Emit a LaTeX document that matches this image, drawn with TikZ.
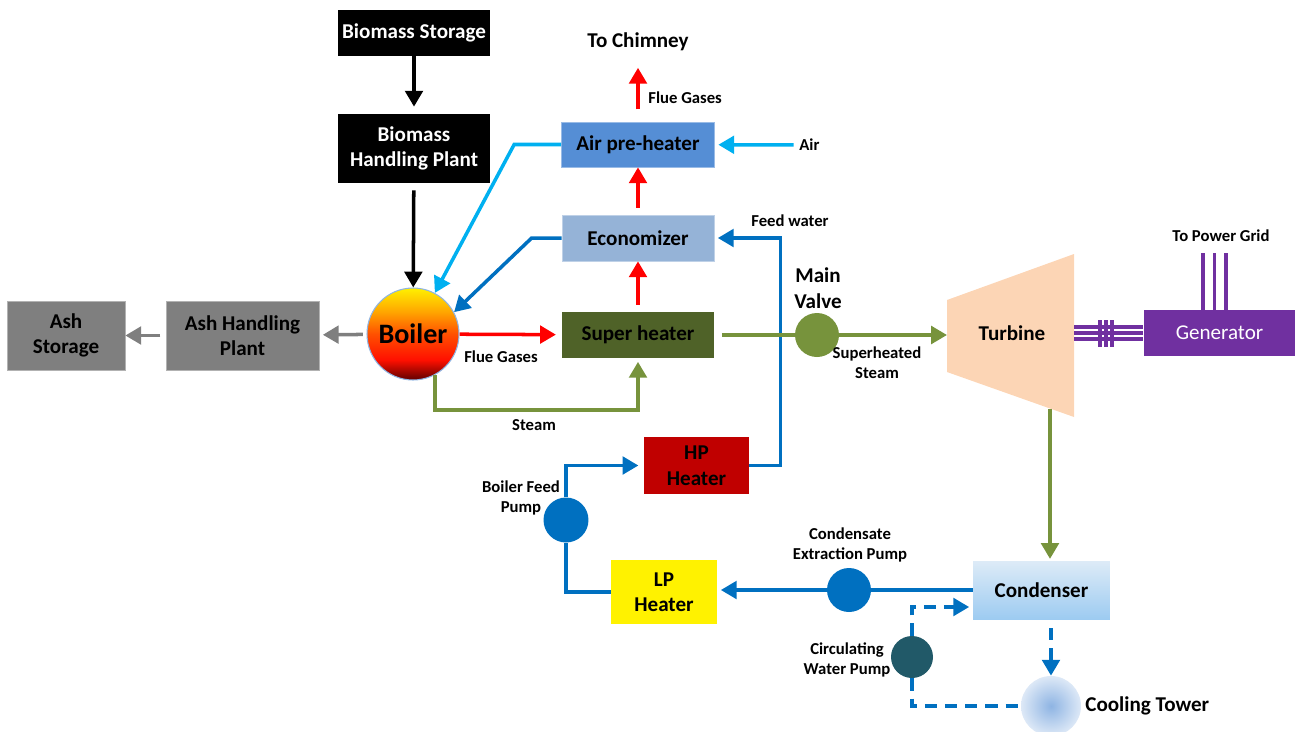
\documentclass[tikz,border=0pt]{standalone}
\usepackage{fontspec}
\setmainfont{Carlito}
\usetikzlibrary{arrows.meta,calc}

\definecolor{steamgreen}{HTML}{77933C}
\definecolor{shgreen}{HTML}{4F6228}
\definecolor{econblue}{HTML}{95B3D7}
\definecolor{airblue}{HTML}{558ED5}
\definecolor{skyline}{HTML}{00B0F0}
\definecolor{waterblue}{HTML}{0070C0}
\definecolor{hpred}{HTML}{C00000}
\definecolor{ashgray}{HTML}{7F7F7F}
\definecolor{genpurple}{HTML}{7030A0}
\definecolor{turbpeach}{HTML}{FCD5B5}
\definecolor{pumpteal}{HTML}{215968}
\definecolor{towerblue}{HTML}{8EB4E3}
\definecolor{condtop}{HTML}{DDEBF7}
\definecolor{condbot}{HTML}{9DCBF1}
\definecolor{boilerdark}{HTML}{600000}
\definecolor{boilerred}{HTML}{FF1000}
\definecolor{boilermid}{HTML}{FF5000}
\definecolor{boilerorange}{HTML}{FFA500}
\definecolor{boileryellow}{HTML}{FFF000}

\pgfdeclareverticalshading{boilershade}{100bp}{color(0bp)=(boilerdark); color(25bp)=(boilerdark); color(36bp)=(boilerred); color(50bp)=(boilermid); color(62bp)=(boilerorange); color(75bp)=(boileryellow); color(100bp)=(boileryellow)}

\newcommand\boxtxt{\bfseries\fontsize{12}{14.5}\selectfont}
\newcommand\smalltxt{\bfseries\fontsize{9.5}{11.5}\selectfont}

\begin{document}
\begin{tikzpicture}[x=0.02cm, y=-0.02cm,
		unit/.style 2 args={rectangle, minimum width=#1cm, minimum height=#2cm, inner sep=0pt, align=center, font=\boxtxt},
		pump/.style={circle, minimum size=#1cm, inner sep=0pt},
		lbl/.style={align=center, inner sep=0pt, font=\smalltxt},
		pipe/.style={line width=2pt},
		flow/.style={pipe, -{Triangle[width=10pt,length=9pt]}},
		cool/.style={dash pattern=on 7pt off 4.5pt},
		wire/.style={genpurple, line width=2pt}]
		\useasboundingbox (0,0) rectangle (1296,731);

		\node[unit={3.04}{0.92}, fill=black, text=white] (storage) at (414,33) {Biomass Storage};
		\node[unit={3.04}{1.38}, fill=black, text=white] (handling) at (414,148.5) {Biomass\\Handling Plant};
		\node[circle, minimum size=1.84cm, inner sep=0pt, draw=towerblue, line width=0.6pt, shading=boilershade, font=\bfseries\fontsize{16}{18}\selectfont] (boiler) at (413,334) {Boiler};
		\node[unit={3.06}{1.38}, fill=ashgray, draw=ashgray!60!white] (ashplant) at (242.5,335.5) {Ash Handling\\Plant};
		\node[unit={2.36}{1.38}, fill=ashgray, draw=ashgray!60!white] (ashstore) at (66,335.5) {Ash\\Storage};
		\node[unit={3.06}{0.92}, fill=shgreen] (superheater) at (638,335) {Super heater};
		\node[unit={3.04}{0.92}, fill=econblue, draw=econblue!60!white] (economizer) at (638,238) {Economizer};
		\node[unit={3.06}{0.90}, fill=airblue, draw=airblue!60!white] (airpre) at (638,144.5) {Air pre-heater};
		\node[unit={2.10}{1.14}, fill=hpred] (hpheater) at (696.5,465.5) {HP\\Heater};
		\node[unit={2.12}{1.28}, fill=yellow] (lpheater) at (664,592) {LP\\Heater};
		\node[unit={2.74}{1.16}, top color=condtop, bottom color=condbot] (condenser) at (1041.5,590) {Condenser};
		\node[unit={3.04}{0.92}, fill=genpurple, text=white, font=\fontsize{12}{14.5}\selectfont] (generator) at (1219.5,333) {Generator};

		\node[pump=0.88, fill=steamgreen] (valve) at (817,335) {};
		\node[pump=0.90, fill=waterblue] (feedpump) at (566,520) {};
		\node[pump=0.88, fill=waterblue] (extpump) at (849,590) {};
		\node[pump=0.84, fill=pumpteal] (circpump) at (912,657) {};
		\node[pump=1.2, inner color=towerblue, outer color=towerblue!30!white] (tower) at (1051,706) {};

		\fill[turbpeach] (947,300) -- (1074,254) -- (1074,417) -- (947,372) -- cycle;
		\coordinate (tin) at (947,335);
		\coordinate (tout) at (1050,408.5);

		\node[font=\boxtxt] (chimney) at (638,42) {To Chimney};
		\node[lbl, anchor=west] (fluetop) at (648,98) {Flue Gases};
		\node[lbl, anchor=west] (air) at (799,145) {Air};
		\node[lbl] (feedlbl) at (790,221) {Feed water};
		\node[font=\boxtxt, align=center, inner sep=0pt] (valvelbl) at (818,288) {Main\\Valve};
		\node[lbl] (shlbl) at (877,363) {Superheated\\Steam};
		\node[lbl] (fluelbl) at (501,357) {Flue Gases};
		\node[lbl] (steamlbl) at (534,425) {Steam};
		\node[font=\boxtxt] (turbine) at (1012,333) {Turbine};
		\node[lbl] (gridlbl) at (1221,236) {To Power Grid};
		\node[lbl] (feedpumplbl) at (521,498) {Boiler Feed\\Pump};
		\node[lbl] (extpumplbl) at (850,545) {Condensate\\Extraction Pump};
		\node[lbl] (circpumplbl) at (847,660) {Circulating\\Water Pump};
		\node[font=\boxtxt, anchor=west, inner sep=0pt] (towerlbl) at (1085,706) {Cooling Tower};

		\draw[flow, shorten >=4pt] (storage) -- (handling);
		\draw[flow, shorten <=4pt] (handling) -- (boiler);
		\draw[flow, ashgray, shorten <=2pt, shorten >=2pt] (boiler) -- (ashplant);
		\draw[flow, ashgray, shorten <=3pt] (ashplant) -- (ashstore);

		\draw[flow, red, shorten >=3pt] (boiler) -- (superheater);
		\draw[flow, red, shorten <=4pt] (superheater) -- (economizer);
		\draw[flow, red, shorten <=4pt] (economizer) -- (airpre);
		\draw[flow, red, shorten <=7pt, shorten >=6pt] (airpre) -- (chimney);

		\draw[flow, skyline, shorten <=3pt, shorten >=2pt] (air) -- (airpre);
		\draw[flow, skyline] (airpre.west) -- ++(-47,0) -- (boiler.62);
		\draw[flow, waterblue] (economizer.west) -- ++(-30,0) -- (boiler.28);
		\draw[flow, waterblue, shorten >=2pt] (hpheater.east) -- ++(31,0) |- (economizer.east);

		\draw[flow, steamgreen, shorten >=2pt] (boiler.-62) -- ++(0,35) -| (superheater.south);
		\draw[pipe, steamgreen, shorten <=4pt] (superheater.east) -- (valve.west);
		\draw[flow, steamgreen] (valve.east) -- (tin);
		\draw[flow, steamgreen, shorten >=1pt] (tout) -- (tout |- condenser.north);

		\foreach \dy in {-6,0,6}
			\draw[wire] ([yshift=\dy*0.02cm]generator.west) -- ++(-69.5,0);
		\foreach \tx in {1100,1106,1112}
			\draw[wire] (\tx,320) -- (\tx,347);
		\foreach \dx in {-16.5,-5,6.5}
			\draw[wire] ([xshift=\dx*0.02cm]generator.north) -- ++(0,-57);

		\draw[pipe, waterblue] (condenser.west) -- (extpump.east);
		\draw[flow, waterblue, shorten >=2pt] (extpump.west) -- (extpump.west -| lpheater.east);
		\draw[pipe, waterblue] (lpheater.west) -| (feedpump.south);
		\draw[flow, waterblue, shorten >=3pt] (feedpump.north) |- (hpheater.west);

		\draw[flow, waterblue, cool, shorten >=2pt] (circpump.north) |- ($(condenser.west)+(0,17)$);
		\draw[pipe, waterblue, cool] (circpump.south) |- (tower.west);
		\draw[flow, waterblue, cool, shorten <=5pt] (tower |- condenser.south) -- (tower.north);
	\end{tikzpicture}
\end{document}
